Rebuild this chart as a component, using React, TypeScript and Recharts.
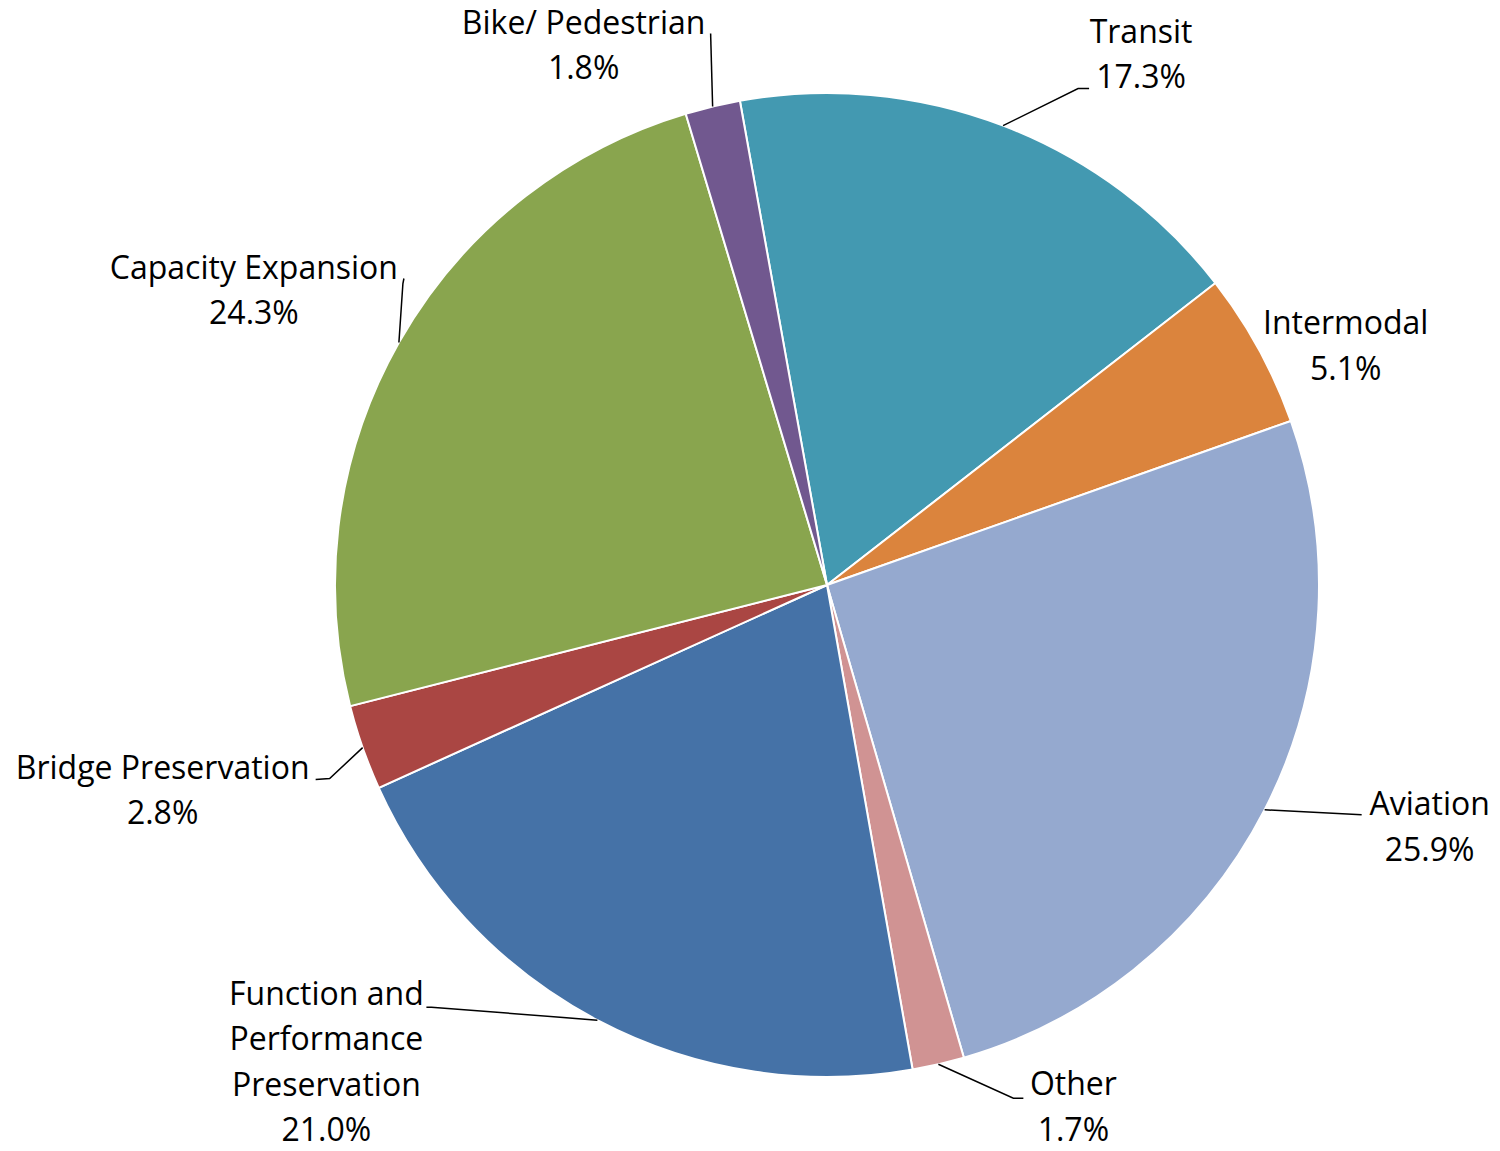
import { PieChart, Pie, Cell } from "recharts";

// Share of program funding by category (percent), clockwise from Transit
const categories = [
  "Transit",
  "Intermodal",
  "Aviation",
  "Other",
  "Function and\nPerformance\nPreservation",
  "Bridge Preservation",
  "Capacity Expansion",
  "Bike/ Pedestrian",
];
const shares = [17.3, 5.1, 25.9, 1.7, 21.0, 2.8, 24.3, 1.8];
const colors = [
  "#4399B1",
  "#DB843D",
  "#95A9CF",
  "#D09393",
  "#4572A7",
  "#AA4643",
  "#89A54E",
  "#71588F",
];

// label placement relative to the slice's outer edge point
// t = text block centre, l = leader elbow/end points
const labelLayout: { t: [number, number]; l: [number, number][] }[] = [
  { t: [138, -71], l: [[75, -37], [86, -37]] },
  { t: [87, -3], l: [] },
  { t: [165, 17], l: [[97, 5]] },
  { t: [135, 43], l: [[75, 34], [85, 34]] },
  { t: [-271, 42], l: [[-166, -13], [-171, -13]] },
  { t: [-200, 43], l: [[-33, 31], [-47, 32]] },
  { t: [-145, -52], l: [[4, -59], [5, -64]] },
  { t: [-129, -61], l: [[-2, -73]] },
];

const data = categories.map((name, i) => ({ name, value: shares[i] }));

const FONT = "'Open Sans', 'Noto Sans', sans-serif";
const FONT_SIZE = 32;
const LINE_H = 45.5;
const RAD = Math.PI / 180;

function renderLabel(props: any) {
  const { cx, cy, midAngle, outerRadius, index, name, value } = props;
  const ex = cx + outerRadius * Math.cos(-midAngle * RAD);
  const ey = cy + outerRadius * Math.sin(-midAngle * RAD);
  const layout = labelLayout[index];
  const lines = [...String(name).split("\n"), `${Number(value).toFixed(1)}%`];
  const tx = ex + layout.t[0];
  const ty = ey + layout.t[1];
  const firstBase = ty - ((lines.length - 1) * LINE_H) / 2 + 11;
  const pts = [[ex, ey], ...layout.l.map(([dx, dy]) => [ex + dx, ey + dy])];
  return (
    <g key={`lbl-${index}`}>
      {pts.length > 1 && (
        <polyline
          points={pts.map((p) => p.join(",")).join(" ")}
          fill="none"
          stroke="#000"
          strokeWidth={1.5}
        />
      )}
      <text
        x={tx}
        y={firstBase}
        textAnchor="middle"
        fontFamily={FONT}
        fontSize={FONT_SIZE}
        fill="#000"
      >
        {lines.map((ln, i) => (
          <tspan key={i} x={tx} y={firstBase + i * LINE_H}>
            {ln}
          </tspan>
        ))}
      </text>
    </g>
  );
}

export default function App() {
  return (
    <div style={{ position: "absolute", left: 0, top: 0, width: 1500, height: 1151, background: "#fff" }}>
      <PieChart width={1500} height={1151} margin={{ top: 0, right: 0, bottom: 0, left: 0 }}>
        <Pie
          data={data}
          dataKey="value"
          nameKey="name"
          cx={827}
          cy={585}
          outerRadius={492}
          startAngle={100.2}
          endAngle={-259.8}
          stroke="#fff"
          strokeWidth={2}
          label={renderLabel}
          labelLine={false}
          isAnimationActive={false}
        >
          {data.map((d, i) => (
            <Cell key={d.name} fill={colors[i]} />
          ))}
        </Pie>
      </PieChart>
    </div>
  );
}
